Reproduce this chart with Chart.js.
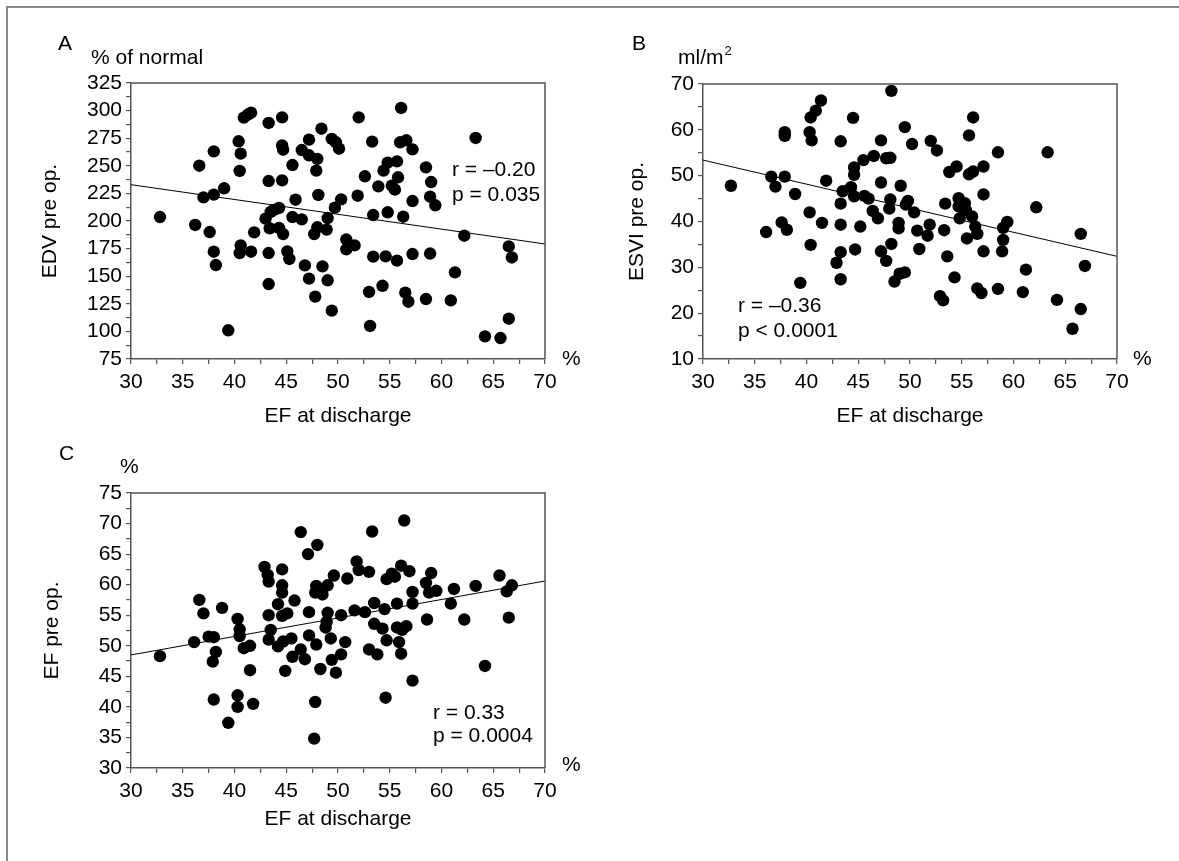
<!DOCTYPE html>
<html lang="en">
<head>
<meta charset="UTF-8">
<title>EF at discharge vs pre-op volumes</title>
<script src="https://cdn.jsdelivr.net/npm/chart.js@4"></script>
<style>
  body { margin: 0; background: #fff; }
  #page { position: relative; width: 1179px; height: 861px; overflow: hidden; }
  #frame { position: absolute; left: 6px; top: 6px; width: 1200px; height: 900px;
           border-top: 2px solid #8a8a8a; border-left: 2px solid #8a8a8a; }
  canvas { position: absolute; }
</style>
</head>
<body>
<div id="page">
  <div id="frame"></div>
  <canvas id="chartA" width="590" height="440" style="left:0;top:0"></canvas>
  <canvas id="chartB" width="599" height="440" style="left:580px;top:0"></canvas>
  <canvas id="chartC" width="590" height="431" style="left:0;top:430px"></canvas>
</div>

<script>
// panel A : EDV pre op. (% of normal) vs EF at discharge
const A_EF = [32.8, 36.2, 36.6, 37.0, 37.6, 38.0, 38.0, 38.0, 38.2, 39.0, 39.4, 40.4, 40.5, 40.6, 40.5, 40.6,
  40.9, 41.3, 41.6, 41.6, 41.9, 43.0, 43.3, 43.3, 43.4, 43.5, 43.3, 43.3, 43.8, 44.3, 44.3, 44.6, 44.6, 44.7,
  44.6, 44.7, 45.1, 45.3, 45.6, 45.6, 45.9, 46.5, 46.5, 46.8, 47.2, 47.2, 47.2, 48.0, 47.9, 47.8, 47.7, 48.1,
  48.0, 48.4, 48.5, 48.9, 49.0, 49.0, 49.4, 49.4, 49.8, 50.1, 49.7, 50.3, 50.8, 50.8, 51.6, 51.9, 52.0, 52.6,
  53.0, 53.1, 53.3, 53.4, 53.4, 53.9, 54.3, 54.4, 54.6, 54.8, 54.8, 55.2, 55.5, 55.7, 55.8, 55.7, 56.1, 56.0,
  56.3, 56.6, 56.5, 56.8, 57.2, 57.2, 57.2, 58.5, 59.0, 58.9, 59.4, 58.9, 58.5, 60.9, 61.3, 62.2, 63.3, 64.2,
  65.7, 66.5, 66.5, 66.8];
const A_EDV = [203.6, 196.4, 250.1, 221.4, 190.0, 223.9, 263.1, 172.2, 160.1, 229.6, 101.0, 272.2, 245.3, 261.0,
  171.0, 177.9, 293.6, 296.3, 298.1, 172.2, 189.7, 202.1, 288.8, 236.2, 193.4, 208.2, 171.0, 142.9, 210.0,
  211.8, 193.7, 293.9, 268.5, 264.6, 236.8, 188.2, 172.5, 165.6, 250.7, 203.6, 219.3, 201.5, 264.3, 159.8,
  273.7, 147.8, 259.5, 256.2, 245.6, 131.5, 188.2, 223.6, 194.3, 283.6, 158.9, 192.2, 202.7, 146.3, 118.8,
  274.3, 271.3, 265.5, 212.1, 219.6, 183.2, 174.4, 177.9, 222.9, 293.9, 240.5, 135.7, 104.9, 271.9, 205.4,
  167.7, 231.4, 141.3, 245.6, 168.0, 252.8, 207.9, 232.0, 228.4, 254.0, 239.6, 164.1, 302.4, 271.3, 203.9,
  273.1, 135.1, 126.9, 264.9, 218.1, 170.1, 248.6, 235.3, 222.0, 214.2, 170.5, 129.3, 128.1, 153.5, 186.7,
  275.2, 95.5, 94.0, 111.5, 177.0, 167.0];
const A_FIT = [232.9, 179.2];

// panel B : ESVI pre op. (ml/m2) vs EF at discharge
const B_EF = [32.7, 36.1, 36.6, 37.0, 37.6, 38.1, 37.9, 37.9, 37.9, 38.9, 39.4, 40.3, 40.4, 40.5, 40.9, 41.4,
  40.3, 40.4, 41.5, 41.9, 42.9, 43.3, 43.3, 43.3, 43.3, 43.3, 43.5, 44.3, 44.5, 44.6, 44.6, 44.6, 44.7, 45.2,
  45.5, 45.6, 46.0, 46.5, 46.4, 46.9, 47.2, 47.2, 47.2, 47.7, 47.7, 48.1, 48.2, 48.1, 48.0, 48.2, 48.5, 49.1,
  48.9, 48.9, 49.0, 49.5, 49.5, 49.8, 49.6, 50.2, 50.4, 50.7, 50.9, 51.7, 51.9, 52.0, 52.6, 52.9, 53.2, 53.3,
  53.4, 53.6, 53.8, 54.3, 54.5, 54.7, 54.8, 54.7, 55.3, 55.4, 55.5, 55.7, 55.7, 56.1, 56.1, 56.0, 56.3, 56.5,
  56.5, 56.9, 57.1, 57.1, 57.1, 58.5, 58.5, 58.9, 59.0, 59.0, 59.4, 60.9, 61.2, 62.2, 63.3, 64.2, 65.7, 66.5,
  66.5, 66.9];
const B_ESVI = [47.8, 37.7, 49.8, 47.6, 39.8, 38.2, 59.5, 58.7, 49.8, 46.0, 26.6, 59.5, 62.7, 57.7, 64.2, 66.4,
  42.0, 34.9, 39.7, 48.9, 31.0, 57.5, 43.9, 39.3, 33.3, 27.4, 46.6, 47.5, 62.6, 51.8, 50.2, 45.5, 33.9, 38.9,
  53.4, 45.6, 45.0, 54.3, 42.3, 40.7, 57.7, 48.5, 33.5, 31.4, 53.8, 53.9, 68.5, 44.8, 42.8, 35.1, 26.9, 47.8,
  39.7, 38.5, 28.6, 28.9, 60.6, 44.5, 43.7, 56.9, 42.0, 38.0, 34.0, 36.9, 39.3, 57.6, 55.5, 23.7, 22.8, 38.1,
  43.9, 32.4, 50.8, 27.8, 52.0, 45.1, 40.7, 43.3, 44.0, 42.5, 36.3, 58.8, 50.3, 62.7, 50.9, 41.1, 38.9, 37.3,
  25.4, 24.4, 52.0, 45.9, 33.5, 55.1, 25.3, 33.5, 38.6, 36.0, 39.9, 24.6, 29.5, 43.1, 55.1, 22.9, 16.6, 37.3,
  20.9, 30.3];
const B_FIT = [53.4, 32.4];

// panel C : EF pre op. (%) vs EF at discharge
const C_EF = [32.8, 36.1, 36.6, 37.0, 37.5, 38.0, 38.2, 37.9, 38.0, 38.8, 39.4, 40.3, 40.5, 40.5, 40.3, 40.3,
  40.9, 41.5, 41.5, 41.8, 42.9, 43.2, 43.3, 43.3, 43.5, 43.3, 44.2, 44.2, 44.6, 44.6, 44.6, 44.6, 44.7, 44.9,
  45.1, 45.5, 45.6, 45.8, 46.4, 46.4, 46.8, 47.1, 47.2, 47.2, 47.9, 47.8, 48.0, 47.9, 47.8, 47.7, 48.3, 48.5,
  49.0, 49.0, 48.9, 48.8, 49.3, 49.4, 49.6, 49.8, 50.3, 50.3, 50.7, 50.9, 51.6, 51.8, 52.0, 52.6, 53.0, 53.0,
  53.3, 53.5, 53.5, 53.8, 54.3, 54.5, 54.7, 54.7, 54.6, 55.2, 55.5, 55.7, 55.7, 55.9, 56.1, 56.1, 56.2, 56.6,
  56.4, 56.9, 57.2, 57.2, 57.2, 58.5, 58.8, 58.6, 59.0, 59.5, 60.9, 61.2, 62.2, 63.3, 64.2, 65.6, 66.3, 66.8,
  66.5];
const C_EFPRE = [48.3, 50.6, 57.5, 55.3, 51.5, 51.4, 49.0, 47.4, 41.2, 56.2, 37.4, 54.4, 52.7, 51.6, 41.9, 40.0,
  49.6, 50.0, 46.0, 40.5, 62.9, 61.6, 60.5, 55.0, 52.6, 51.0, 56.8, 49.9, 62.5, 59.9, 58.7, 54.9, 50.7, 45.9,
  55.3, 51.2, 48.2, 57.4, 68.6, 49.4, 47.8, 65.0, 55.5, 51.7, 59.8, 58.7, 66.5, 50.2, 40.8, 34.8, 46.2, 58.4,
  59.9, 55.4, 53.9, 53.0, 51.2, 47.7, 61.5, 45.6, 48.6, 55.0, 50.6, 61.0, 55.8, 63.8, 62.4, 55.5, 62.1, 49.4,
  68.7, 57.0, 53.6, 48.6, 52.8, 56.0, 60.9, 50.9, 41.5, 61.8, 61.3, 56.9, 53.0, 50.6, 48.7, 63.1, 52.6, 53.2,
  70.5, 62.2, 58.8, 56.9, 44.3, 60.3, 58.7, 54.3, 61.9, 59.0, 56.9, 59.3, 54.3, 59.8, 46.7, 61.5, 58.9, 59.9,
  54.6];
const C_FIT = [48.5, 60.6];

const FIT_X = [30, 70];
const X_TITLE = 'EF at discharge';

const FONT = '"Liberation Sans", Arial, sans-serif';
const FSIZE = 21;
const AXIS = '#555';

// frame (top/right), panel letter, unit and r/p text
const panelText = {
  id: 'panelText',
  afterDraw(chart, args, opts) {
    const { ctx, chartArea: a } = chart;
    ctx.save();
    ctx.strokeStyle = AXIS;
    ctx.lineWidth = 1.5;
    ctx.beginPath();
    ctx.moveTo(a.left, a.top);
    ctx.lineTo(a.right, a.top);
    ctx.lineTo(a.right, a.bottom);
    ctx.stroke();
    ctx.fillStyle = '#000';
    ctx.textAlign = 'left';
    ctx.textBaseline = 'middle';
    for (const t of opts.items) {
      ctx.font = FSIZE + 'px ' + FONT;
      const x = a.left + t.x, y = a.top + t.y;
      ctx.fillText(t.text, x, y);
      if (t.sup) {
        const w = ctx.measureText(t.text).width;
        ctx.font = '13px ' + FONT;
        ctx.fillText(t.sup, x + w + 1, y - 7);
      }
    }
    ctx.restore();
  }
};

function makePanel(id, p) {
  const font = { family: FONT, size: FSIZE };
  const points = p.xs.map((x, i) => ({ x, y: p.ys[i] }));
  const fit = FIT_X.map((x, i) => ({ x, y: p.fit[i] }));
  new Chart(document.getElementById(id), {
    type: 'scatter',
    data: {
      datasets: [
        { data: points, pointRadius: 6.2, pointBackgroundColor: '#000', pointBorderWidth: 0 },
        { data: fit, showLine: true, borderColor: '#000', borderWidth: 1, pointRadius: 0 }
      ]
    },
    options: {
      responsive: false,
      animation: false,
      devicePixelRatio: 1,
      layout: { padding: p.pad },
      plugins: {
        legend: { display: false },
        tooltip: { enabled: false },
        panelText: { items: p.texts }
      },
      scales: {
        x: {
          min: 30, max: 70,
          afterFit: s => { s.height = p.xh; },
          ticks: { stepSize: 2.5, maxTicksLimit: 100, autoSkip: false, maxRotation: 0,
                   callback: v => (v % 5 === 0 ? v : ''), font, color: '#000', padding: 6 },
          grid: { drawOnChartArea: false, tickLength: 5, color: AXIS, lineWidth: 1.2 },
          border: { color: AXIS, width: 1.5 },
          title: { display: true, text: X_TITLE, font, color: '#000', padding: { top: 0, bottom: p.xtPad } }
        },
        y: {
          min: p.ymin, max: p.ymax,
          afterFit: s => { s.width = p.yw; },
          ticks: { stepSize: p.minor, maxTicksLimit: 100, autoSkip: false,
                   callback: v => (v % p.major === 0 ? v : ''), font, color: '#000', padding: 4 },
          grid: { drawOnChartArea: false, tickLength: 5, color: AXIS, lineWidth: 1.2 },
          border: { color: AXIS, width: 1.5 },
          title: { display: true, text: p.ytitle, font, color: '#000', padding: { top: p.ytPad, bottom: 0 } }
        }
      }
    },
    plugins: [panelText]
  });
}

makePanel('chartA', {
  xs: A_EF, ys: A_EDV, fit: A_FIT,
  ymin: 75, ymax: 325, major: 25, minor: 12.5, ytitle: 'EDV pre op.',
  pad: { left: 0, top: 83, right: 45, bottom: 0 }, yw: 131, xh: 81, xtPad: 11, ytPad: 38,
  texts: [
    { text: 'A', x: -73, y: -39 },
    { text: '% of normal', x: -40, y: -25 },
    { text: 'r = \u20130.20', x: 321, y: 87 },
    { text: 'p = 0.035', x: 321, y: 112 },
    { text: '%', x: 431, y: 276 }
  ]
});

makePanel('chartB', {
  xs: B_EF, ys: B_ESVI, fit: B_FIT,
  ymin: 10, ymax: 70, major: 10, minor: 5, ytitle: 'ESVI pre op.',
  pad: { left: 0, top: 84, right: 62, bottom: 0 }, yw: 123, xh: 81, xtPad: 11, ytPad: 45,
  texts: [
    { text: 'B', x: -71, y: -40 },
    { text: 'ml/m', sup: '2', x: -25, y: -26 },
    { text: 'r = \u20130.36', x: 35, y: 222 },
    { text: 'p < 0.0001', x: 35, y: 247 },
    { text: '%', x: 430, y: 275 }
  ]
});

makePanel('chartC', {
  xs: C_EF, ys: C_EFPRE, fit: C_FIT,
  ymin: 30, ymax: 75, major: 5, minor: 2.5, ytitle: 'EF pre op.',
  pad: { left: 0, top: 63, right: 45, bottom: 0 }, yw: 131, xh: 93, xtPad: 29, ytPad: 40,
  texts: [
    { text: 'C', x: -72, y: -39 },
    { text: '%', x: -11, y: -26 },
    { text: 'r = 0.33', x: 302, y: 220 },
    { text: 'p = 0.0004', x: 302, y: 243 },
    { text: '%', x: 431, y: 272 }
  ]
});
</script>
</body>
</html>
